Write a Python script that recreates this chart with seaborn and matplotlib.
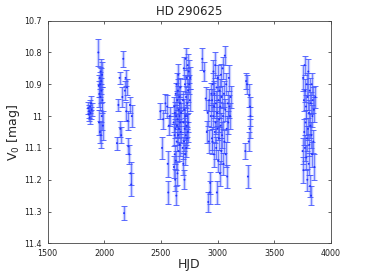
import numpy as np
import pandas as pd
import matplotlib
matplotlib.use("Agg")
import matplotlib.pyplot as plt
import seaborn as sns

# ---- data ----
s1_hjd = [1858, 1863, 1867, 1871, 1875, 1879, 1884, 1888]
s1_mag = [10.975, 10.995, 10.985, 11.005, 10.97, 10.99, 10.96, 10.98]
s1_err = [0.018, 0.02, 0.02, 0.02, 0.02, 0.02, 0.022, 0.02]

s2_hjd = [1948, 1951, 1954, 1957, 1960, 1962, 1964, 1966, 1968, 1970, 1972, 1975, 1978, 1981, 1984, 1988]
s2_mag = [10.80, 10.905, 11.02, 10.93, 10.88, 11.05, 10.90, 10.94, 10.86, 11.06, 10.89, 10.92, 11.0, 10.87, 10.95, 11.03]
s2_err = [0.042, 0.035, 0.04, 0.04, 0.035, 0.035, 0.04, 0.04, 0.04, 0.04, 0.04, 0.04, 0.045, 0.04, 0.04, 0.045]

s3_hjd = [2112, 2125, 2135, 2142, 2150, 2160, 2168, 2175, 2182, 2188, 2195, 2200, 2207, 2213, 2220, 2227, 2232, 2238, 2243]
s3_mag = [11.085, 10.965, 10.88, 11.04, 11.06, 10.94, 10.82, 11.305, 10.92, 10.88, 10.985, 10.91, 11.015, 11.095, 11.12, 10.965, 11.18, 11.215, 11.0]
s3_err = [0.02, 0.02, 0.02, 0.025, 0.025, 0.03, 0.025, 0.022, 0.03, 0.025, 0.03, 0.025, 0.03, 0.025, 0.03, 0.025, 0.035, 0.035, 0.035]

s4_hjd = [2495, 2510, 2520, 2540, 2555, 2560, 2565, 2570, 2578]
s4_mag = [10.985, 11.1, 11.01, 10.96, 10.97, 11.15, 11.24, 11.03, 11.0]
s4_err = [0.025, 0.035, 0.03, 0.03, 0.035, 0.04, 0.035, 0.03, 0.03]

s5_hjd = [2612, 2615, 2618, 2620, 2622, 2624, 2626, 2628, 2630, 2632, 2634, 2636, 2638, 2640, 2642, 2644,
          2646, 2648, 2650, 2652, 2654, 2656, 2658, 2660, 2662, 2664, 2666, 2668, 2670, 2672, 2675, 2678]
s5_mag = [11.02, 11.16, 10.97, 11.06, 11.12, 10.99, 11.2, 11.04, 10.93, 11.14, 11.0, 11.25, 10.9, 11.08, 11.03, 10.95,
          11.18, 11.01, 10.92, 11.06, 10.87, 11.11, 10.98, 11.04, 10.94, 11.0, 11.09, 10.96, 11.02, 10.91, 11.05, 10.99]
s5_err = [0.03, 0.035, 0.03, 0.035, 0.03, 0.035, 0.035, 0.03, 0.035, 0.03, 0.035, 0.03, 0.035, 0.03, 0.035, 0.03,
          0.035, 0.03, 0.035, 0.03, 0.035, 0.03, 0.035, 0.03, 0.035, 0.03, 0.035, 0.03, 0.035, 0.03, 0.035, 0.03]

s6_hjd = [2692, 2695, 2698, 2700, 2702, 2704, 2706, 2708, 2710, 2712, 2714, 2716, 2718, 2720, 2722, 2724,
          2726, 2728, 2730, 2732, 2734, 2736, 2738, 2740, 2743, 2746, 2750, 2755, 2760]
s6_mag = [11.1, 10.95, 11.15, 11.02, 10.85, 11.08, 10.98, 11.2, 11.04, 10.9, 11.12, 11.0, 10.82, 11.06, 10.94, 11.1,
          11.03, 10.88, 11.0, 11.07, 10.96, 10.84, 11.05, 10.92, 11.02, 10.86, 10.9, 10.95, 10.88]
s6_err = [0.035, 0.03, 0.035, 0.03, 0.035, 0.03, 0.035, 0.03, 0.035, 0.03, 0.035, 0.03, 0.035, 0.03, 0.035, 0.03,
          0.035, 0.03, 0.035, 0.03, 0.035, 0.035, 0.03, 0.035, 0.03, 0.035, 0.03, 0.035, 0.035]

s7_hjd = [2865, 2880, 2895, 2905, 2912, 2918, 2922, 2926, 2930, 2935, 2940, 2945, 2950]
s7_mag = [10.82, 10.86, 10.945, 11.05, 10.99, 11.27, 11.08, 10.95, 11.24, 11.21, 11.0, 10.93, 11.07]
s7_err = [0.035, 0.03, 0.035, 0.035, 0.04, 0.03, 0.035, 0.035, 0.035, 0.035, 0.035, 0.035, 0.035]

s8_hjd = [2952, 2955, 2958, 2961, 2964, 2967, 2970, 2973, 2976, 2979, 2982, 2985, 2988, 2991, 2994, 2997,
          3000, 3003, 3006, 3009, 3012, 3015, 3018, 3021, 3024, 3027, 3030, 3033, 3036, 3040, 3044, 3048,
          3052, 3056, 3060, 3064, 3068, 3072, 3076, 3080, 3085, 3090, 3095, 3100, 3105, 3110, 3115]
s8_mag = [10.95, 11.08, 10.9, 11.0, 10.86, 11.12, 10.97, 10.93, 11.05, 10.84, 11.02, 10.96, 11.1, 10.91, 11.24, 10.99,
          11.04, 10.88, 11.14, 10.95, 11.07, 11.01, 10.92, 11.18, 10.97, 11.03, 10.87, 11.11, 10.94, 11.06, 10.85, 11.0,
          11.15, 10.93, 11.08, 10.81, 10.98, 11.12, 10.9, 11.04, 11.19, 10.96, 11.02, 10.88, 10.97, 11.0, 10.94]
s8_err = [0.035, 0.04, 0.035, 0.04, 0.035, 0.04, 0.035, 0.04, 0.035, 0.04, 0.035, 0.04, 0.035, 0.04, 0.035, 0.04,
          0.035, 0.04, 0.035, 0.04, 0.035, 0.04, 0.035, 0.04, 0.035, 0.04, 0.035, 0.04, 0.035, 0.04, 0.035, 0.04,
          0.035, 0.04, 0.035, 0.03, 0.035, 0.04, 0.035, 0.04, 0.035, 0.04, 0.035, 0.04, 0.035, 0.04, 0.035]

s9_hjd = [3245, 3252, 3260, 3268, 3275, 3280, 3283, 3286, 3290]
s9_mag = [11.11, 10.89, 10.9, 11.19, 11.08, 10.935, 11.04, 10.97, 11.0]
s9_err = [0.025, 0.025, 0.03, 0.037, 0.03, 0.035, 0.03, 0.03, 0.03]

s10_hjd = [3750, 3755, 3758, 3762, 3765, 3768, 3771, 3774, 3777, 3780, 3783, 3786, 3789, 3792, 3795, 3798,
           3801, 3804, 3807, 3810, 3813, 3816, 3819, 3822, 3825, 3828, 3831, 3834, 3837, 3840, 3845, 3850, 3855, 3862]
s10_mag = [11.11, 10.88, 11.17, 10.95, 11.05, 10.84, 11.1, 10.92, 11.02, 10.97, 11.13, 10.9, 11.07, 11.2, 10.94, 11.04,
           10.86, 11.15, 10.99, 11.09, 10.92, 11.22, 11.03, 10.96, 11.25, 11.06, 10.9, 11.12, 11.0, 10.95, 11.08, 10.98, 11.16, 10.94]
s10_err = [0.04, 0.04, 0.04, 0.035, 0.04, 0.03, 0.04, 0.035, 0.04, 0.035, 0.04, 0.035, 0.04, 0.035, 0.04, 0.035,
           0.04, 0.035, 0.04, 0.035, 0.04, 0.035, 0.04, 0.035, 0.03, 0.04, 0.035, 0.04, 0.035, 0.04, 0.035, 0.04, 0.04, 0.035]

x_ticks = [1500, 2000, 2500, 3000, 3500, 4000]
y_ticks = [10.7, 10.8, 10.9, 11.0, 11.1, 11.2, 11.3, 11.4]
y_tick_labels = ["10.7", "10.8", "10.9", "11", "11.1", "11.2", "11.3", "11.4"]

hjd = s1_hjd + s2_hjd + s3_hjd + s4_hjd + s5_hjd + s6_hjd + s7_hjd + s8_hjd + s9_hjd + s10_hjd
mag = s1_mag + s2_mag + s3_mag + s4_mag + s5_mag + s6_mag + s7_mag + s8_mag + s9_mag + s10_mag
err = s1_err + s2_err + s3_err + s4_err + s5_err + s6_err + s7_err + s8_err + s9_err + s10_err
df = pd.DataFrame({"HJD": hjd, "V0": mag, "err": err})

sns.set_style("white")
plt.rcParams['font.family'] = ['DejaVu Sans']

fig = plt.figure(figsize=(3.66, 2.75), dpi=100)
ax = fig.add_axes([0.130, 0.115, 0.774, 0.810])

# light wide error bands
ax.errorbar(df["HJD"], df["V0"], yerr=df["err"], fmt="none",
            ecolor="#bcc4ff", elinewidth=2.4, capsize=0, alpha=0.8, zorder=1)
# thin dark error lines with caps
ax.errorbar(df["HJD"], df["V0"], yerr=df["err"], fmt="none",
            ecolor="#4255ff", elinewidth=0.45, capsize=2.0, capthick=0.6, zorder=2)
sns.scatterplot(data=df, x="HJD", y="V0", ax=ax, color="#2030ff", s=2.0,
                edgecolor="none", zorder=3, legend=False)

ax.set_xlim(1500, 4000)
ax.set_ylim(11.4, 10.7)
ax.set_xticks(x_ticks)
ax.set_xticklabels([str(t) for t in x_ticks])
ax.set_yticks(y_ticks)
ax.set_yticklabels(y_tick_labels)
ax.tick_params(direction="in", length=2.5, width=0.5, labelsize=5.8, top=True, right=True,
               bottom=True, left=True, colors="#222222")
ax.tick_params(axis="x", pad=4)
ax.tick_params(axis="y", pad=4)
for sp in ax.spines.values():
    sp.set_color("#444444")
    sp.set_linewidth(0.6)

ax.set_xlabel("HJD", fontsize=9, labelpad=0)
ax.set_ylabel("V$_0$ [mag]", fontsize=9, labelpad=2)
ax.set_title("HD 290625", fontsize=8.5, pad=4)

fig.savefig("out.png", dpi=100)
